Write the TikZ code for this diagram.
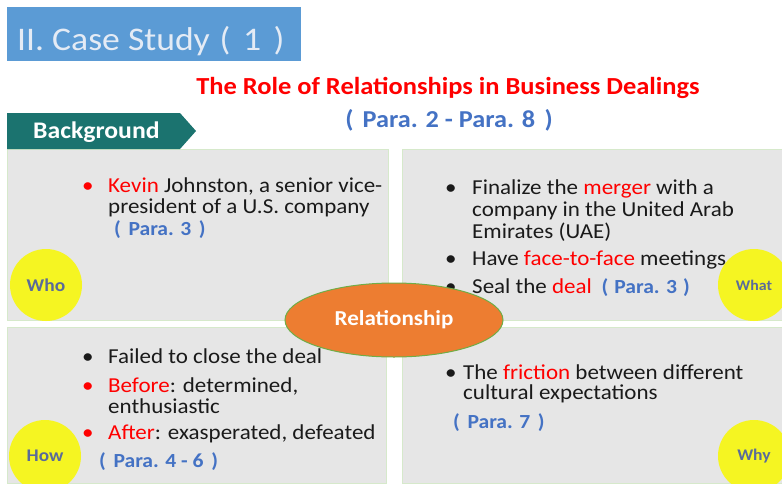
\documentclass[tikz,border=0pt]{standalone}
\usepackage{fontspec}
\setmainfont[FakeStretch=1.08]{Carlito}
\usetikzlibrary{shapes.geometric}
\definecolor{titlebox}{HTML}{5B9BD5}
\definecolor{titletxt}{HTML}{E4EBF5}
\definecolor{teal}{HTML}{1B736F}
\definecolor{panel}{HTML}{E6E6E6}
\definecolor{panelline}{HTML}{D6E9CB}
\definecolor{parablue}{HTML}{4472C4}
\definecolor{txt}{HTML}{1A1A1A}
\definecolor{ylw}{HTML}{F5F522}
\definecolor{orng}{HTML}{ED7D31}
\definecolor{grn}{HTML}{70AD47}
\definecolor{lbl}{HTML}{5A6B9A}
\newcommand\fwl{(\hspace{0.38em}}
\newcommand\fwr{\hspace{0.38em})}
\begin{document}
\begin{tikzpicture}[x=1pt,y=-1pt,
  body/.style={font=\fontsize{21.3}{22}\selectfont, text=txt, anchor=base west, inner sep=0pt},
  para/.style={body, text=parablue, font=\bfseries\fontsize{20}{22}\selectfont},
  bul/.style={body},
  panelbox/.style={fill=panel, draw=panelline, line width=0.8pt},
  ball/.style={circle, fill=ylw, minimum size=72pt, inner sep=0pt, text=lbl, font=\bfseries\fontsize{18}{18}\selectfont}
]
\useasboundingbox (0,0) rectangle (782,483);
\clip (0,0) rectangle (782,483);
\fill[white] (0,0) rectangle (782,483);

% title box
\node[fill=titlebox, minimum width=294pt, minimum height=54pt, inner sep=0pt, anchor=north west] (tbox) at (7,7) {};
\node[anchor=base west, inner sep=0pt, text=titletxt, font=\fontsize{33}{33}\selectfont] (ttxt) at (17,50) {II. Case Study\hspace{0.3em}\fwl 1\fwr};

% main title
\node[anchor=base, inner sep=0pt, text=red, font=\bfseries\fontsize{24.5}{25}\selectfont] (main) at (448,94) {The Role of Relationships in Business Dealings};
\node[anchor=base, inner sep=0pt, text=parablue, font=\bfseries\fontsize{24.3}{25}\selectfont] (mainpara) at (449,127) {\fwl Para. 2 - Para. 8\fwr};

% panels
\draw[panelbox] (7,149) rectangle (388,320);
\draw[panelbox] (402,149) rectangle (782,320);
\draw[panelbox] (7,327) rectangle (386,483);
\draw[panelbox] (402,327) rectangle (782,483);

% background banner
\fill[teal] (7,113) -- (180,113) -- (196,131) -- (180,149) -- (7,149) -- cycle;
\node[anchor=base west, inner sep=0pt, text=white, font=\bfseries\fontsize{23.8}{24}\selectfont] (bg) at (33,138) {Background};

% top-left text
\node[bul, text=red] (b1) at (82,192) {•};
\node[body] (t1a) at (108,192) {\textcolor{red}{Kevin} Johnston, a senior vice-};
\node[body] (t1b) at (108,213) {president of a U.S. company};
\node[para] (t1c) at (114,235) {\fwl Para. 3\fwr};

% top-right text
\node[bul] (b2) at (445,194) {•};
\node[body] (t2a) at (472,194) {Finalize the \textcolor{red}{merger} with a};
\node[body] (t2b) at (472,216) {company in the United Arab};
\node[body] (t2c) at (472,238) {Emirates (UAE)};
\node[bul] (b3) at (445,265) {•};
\node[body] (t2d) at (472,265) {Have \textcolor{red}{face-to-face} meetings};
\node[bul] (b4) at (445,293) {•};
\node[body] (t2e) at (472,293) {Seal the \textcolor{red}{deal}\hspace{0.45em}\textcolor{parablue}{\bfseries\fontsize{20}{22}\selectfont(\hspace{0.3em}Para. 3\hspace{0.3em})}};

% bottom-left text
\node[bul] (b5) at (82,363) {•};
\node[body] (t3a) at (108,363) {Failed to close the deal};
\node[bul, text=red] (b6) at (82,392) {•};
\node[body] (t3b) at (108,392) {\textcolor{red}{Before}: determined,};
\node[body] (t3c) at (108,413) {enthusiastic};
\node[bul, text=red] (b7) at (82,439) {•};
\node[body] (t3d) at (108,439) {\textcolor{red}{After}: exasperated, defeated};
\node[para] (t3e) at (99,467) {\fwl Para. 4 - 6\fwr};

% bottom-right text
\node[bul] (b8) at (445,379) {•};
\node[body] (t4a) at (463,379) {The \textcolor{red}{friction} between different};
\node[body] (t4b) at (463,399) {cultural expectations};
\node[para] (t4c) at (453,428) {\fwl Para. 7\fwr};

% balls
\node[ball] (who) at (46,285) {Who};
\node[ball, font=\bfseries\fontsize{14.7}{15}\selectfont] (what) at (754,285) {What};
\node[ball, font=\bfseries\fontsize{17.8}{18}\selectfont] (how) at (45,456) {How};
\node[ball, font=\bfseries\fontsize{16.3}{17}\selectfont] (why) at (754,456) {Why};

% relationship ellipse
\node[ellipse, fill=orng, draw=grn, line width=1pt, minimum width=218pt, minimum height=74pt, inner sep=0pt, text=white, font=\bfseries\fontsize{21.3}{22}\selectfont] (rel) at (394,320) {Relationship};
\end{tikzpicture}
\end{document}
